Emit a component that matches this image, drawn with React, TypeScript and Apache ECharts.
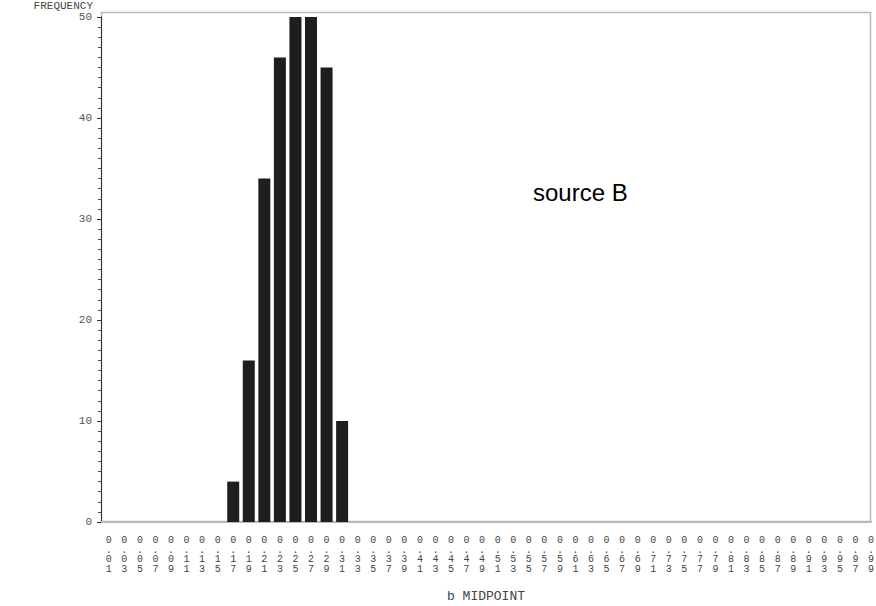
import React, { useEffect, useRef } from "react";
import * as echarts from "echarts";

// b midpoints 0.01 .. 0.99
const midpoints: string[] = [
  "0.01", "0.03", "0.05", "0.07", "0.09", "0.11", "0.13", "0.15", "0.17", "0.19",
  "0.21", "0.23", "0.25", "0.27", "0.29", "0.31", "0.33", "0.35", "0.37", "0.39",
  "0.41", "0.43", "0.45", "0.47", "0.49", "0.51", "0.53", "0.55", "0.57", "0.59",
  "0.61", "0.63", "0.65", "0.67", "0.69", "0.71", "0.73", "0.75", "0.77", "0.79",
  "0.81", "0.83", "0.85", "0.87", "0.89", "0.91", "0.93", "0.95", "0.97", "0.99",
];
const frequency: number[] = [
  0, 0, 0, 0, 0, 0, 0, 0, 4, 16,
  34, 46, 50, 50, 45, 10, 0, 0, 0, 0,
  0, 0, 0, 0, 0, 0, 0, 0, 0, 0,
  0, 0, 0, 0, 0, 0, 0, 0, 0, 0,
  0, 0, 0, 0, 0, 0, 0, 0, 0, 0,
];
const yTicks: number[] = [0, 10, 20, 30, 40, 50];

export default function App() {
  const ref = useRef<HTMLDivElement>(null);
  useEffect(() => {
    document.body.style.margin = "0";
    const chart = echarts.init(ref.current!, null, { renderer: "svg" });
    const xVals = midpoints.map((m) => parseFloat(m));
    const mono = "'Liberation Mono', 'DejaVu Sans Mono', monospace";
    chart.setOption({
      animation: false,
      grid: { left: 101, right: 5, top: 17, bottom: 84, outerBoundsMode: "none", containLabel: false },
      xAxis: {
        type: "value",
        min: 0,
        max: 0.99,
        name: "b MIDPOINT",
        nameLocation: "middle",
        nameGap: 68,
        nameTextStyle: { fontFamily: mono, fontSize: 13, color: "#444" },
        axisLine: { show: true, lineStyle: { color: "#b8b8b8", width: 2 } },
        axisTick: { show: false },
        splitLine: { show: false },
        axisLabel: {
          customValues: xVals,
          margin: 14,
          fontFamily: mono,
          fontSize: 10,
          lineHeight: 9.5,
          color: "#444",
          formatter: (v: number) => {
            const idx = xVals.findIndex((x) => Math.abs(x - v) < 1e-6);
            const s = idx >= 0 ? midpoints[idx] : v.toFixed(2);
            return s.split("").join("\n");
          },
        },
      },
      yAxis: {
        type: "value",
        min: 0,
        max: 50,
        interval: 10,
        axisLine: { show: true, lineStyle: { color: "#333", width: 1 } },
        axisTick: { show: true, length: 4, lineStyle: { color: "#333" } },
        minorTick: { show: true, splitNumber: 10, length: 3, lineStyle: { color: "#555" } },
        splitLine: { show: false },
        axisLabel: {
          customValues: yTicks,
          margin: 9,
          fontFamily: mono,
          fontSize: 11,
          color: "#555",
        },
      },
      graphic: [
        {
          type: "rect",
          shape: { x: 101.5, y: 12.5, width: 769, height: 509 },
          style: { fill: "none", stroke: "#bbbbbb", lineWidth: 1.5 },
          silent: true,
          z: -1,
        },
        {
          type: "text",
          x: 93,
          y: 6,
          style: {
            text: "FREQUENCY",
            fontFamily: mono,
            fontSize: 11,
            fill: "#444",
            align: "right",
            verticalAlign: "middle",
          },
        },
        {
          type: "text",
          x: 533,
          y: 192,
          style: {
            text: "source B",
            fontFamily: "'Liberation Sans', Arial, sans-serif",
            fontSize: 24,
            fill: "#000",
            verticalAlign: "middle",
          },
        },
      ],
      series: [
        {
          type: "bar",
          barWidth: 12,
          data: xVals.map((x, i) => [x, frequency[i]]),
          itemStyle: { color: "#1e1e1e" },
        },
      ],
    });
    return () => chart.dispose();
  }, []);
  return <div ref={ref} style={{ width: 876, height: 606 }} />;
}
